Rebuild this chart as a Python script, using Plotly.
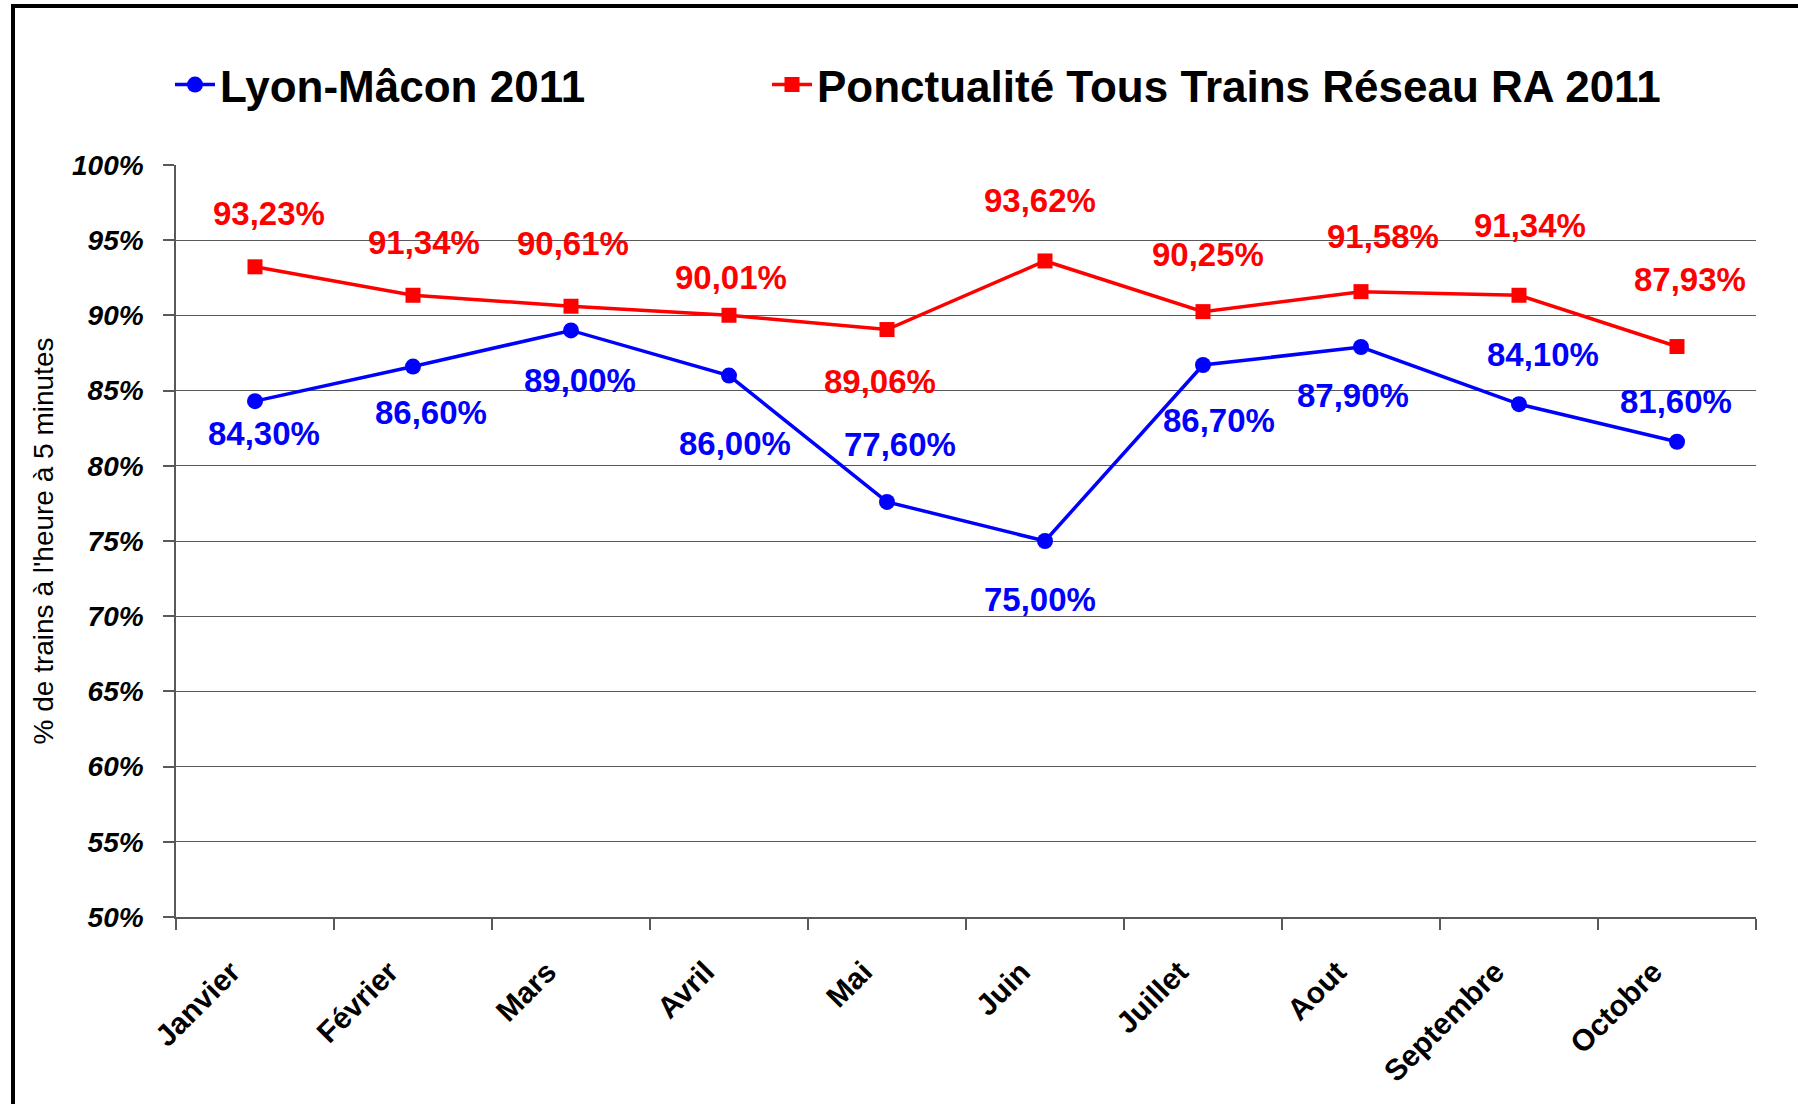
import plotly.graph_objects as go

months = ["Janvier", "Février", "Mars", "Avril", "Mai", "Juin", "Juillet", "Aout", "Septembre", "Octobre"]
lyon_macon = [84.30, 86.60, 89.00, 86.00, 77.60, 75.00, 86.70, 87.90, 84.10, 81.60]
reseau_ra = [93.23, 91.34, 90.61, 90.01, 89.06, 93.62, 90.25, 91.58, 91.34, 87.93]
y_ticks = [50, 55, 60, 65, 70, 75, 80, 85, 90, 95, 100]

# label offsets (pixels) relative to each point
red_dx = [14, 11, 2, 2, -7, -5, 5, 22, 11, 13]
red_dy = [53, 53, 63, 38, -52, 60, 57, 55, 70, 67]
blue_dx = [9, 18, 9, 6, 13, -5, 16, -8, 24, -1]
blue_dy = [-32, -46, -50, -68, 57, -58, -55, -49, 50, 40]

BLUE = "#0000FF"
RED = "#FF0000"
FONT = "Liberation Sans, Arial, sans-serif"
ML, MR, MT, MB = 176, 42, 165, 187
PW = 1798 - ML - MR
PH = 1104 - MT - MB


def fmt(v):
    return f"{v:.2f}".replace(".", ",") + "%"


fig = go.Figure()
fig.add_trace(go.Scatter(
    x=months, y=lyon_macon, name="Lyon-Mâcon 2011", mode="lines+markers",
    line=dict(color=BLUE, width=3.5), marker=dict(symbol="circle", size=16, color=BLUE),
    legend="legend",
))
fig.add_trace(go.Scatter(
    x=months, y=reseau_ra, name="Ponctualité Tous Trains Réseau RA 2011", mode="lines+markers",
    line=dict(color=RED, width=3.5), marker=dict(symbol="square", size=15, color=RED),
    legend="legend2",
))

annotations = []
for i, m in enumerate(months):
    annotations.append(dict(x=m, y=reseau_ra[i], text=fmt(reseau_ra[i]), showarrow=False,
                            xshift=red_dx[i], yshift=red_dy[i],
                            font=dict(family=FONT, size=33, color=RED, weight="bold")))
    annotations.append(dict(x=m, y=lyon_macon[i], text=fmt(lyon_macon[i]), showarrow=False,
                            xshift=blue_dx[i], yshift=blue_dy[i],
                            font=dict(family=FONT, size=33, color=BLUE, weight="bold")))

legend_font = dict(family=FONT, size=44, color="black", weight="bold")
fig.update_layout(
    width=1798, height=1104,
    margin=dict(l=ML, r=MR, t=MT, b=MB),
    paper_bgcolor="white", plot_bgcolor="white",
    font=dict(family=FONT, color="black"),
    showlegend=True,
    legend=dict(orientation="h", x=(170 - ML) / PW, y=(1104 - MB - 85) / PH, xanchor="left", yanchor="middle",
                font=legend_font, bgcolor="rgba(0,0,0,0)", itemwidth=40),
    legend2=dict(orientation="h", x=(767 - ML) / PW, y=(1104 - MB - 85) / PH, xanchor="left", yanchor="middle",
                 font=legend_font, bgcolor="rgba(0,0,0,0)", itemwidth=40),
    annotations=annotations,
    shapes=[dict(type="rect", xref="paper", yref="paper",
                 x0=(13 - ML) / PW, x1=1.2, y0=-0.4, y1=(1104 - MB - 6) / PH,
                 line=dict(color="black", width=4), fillcolor="rgba(0,0,0,0)", layer="above")],
    hovermode=False,
)

fig.update_xaxes(
    type="category", range=[-0.5, 9.5], showgrid=False, showline=True, linecolor="#595959", linewidth=1.5,
    ticks="outside", tickson="boundaries", ticklen=11, tickcolor="#595959", tickwidth=1.5,
    tickvals=months, ticktext=[m + "\u00a0" * 4 for m in months],
    tickangle=-45, tickfont=dict(family=FONT, size=30, color="black", weight="bold"),
    ticklabelstandoff=0,
)
fig.update_yaxes(
    range=[50, 100], tickvals=y_ticks, ticktext=[f"{v}%" for v in y_ticks],
    showgrid=True, gridcolor="#595959", gridwidth=1.3,
    showline=True, linecolor="#595959", linewidth=1.5,
    ticks="outside", ticklen=11, tickcolor="#595959", tickwidth=1.5,
    tickfont=dict(family=FONT, size=28, color="black", weight="bold", style="italic"),
    ticklabelstandoff=14, zeroline=False,
    title=dict(text="% de trains à l'heure à 5 minutes",
               font=dict(family=FONT, size=28, color="black"), standoff=10),
)

fig.write_html("out.html", config={"displayModeBar": False},
               post_script="document.body.style.margin='0';document.body.style.overflow='hidden';")
